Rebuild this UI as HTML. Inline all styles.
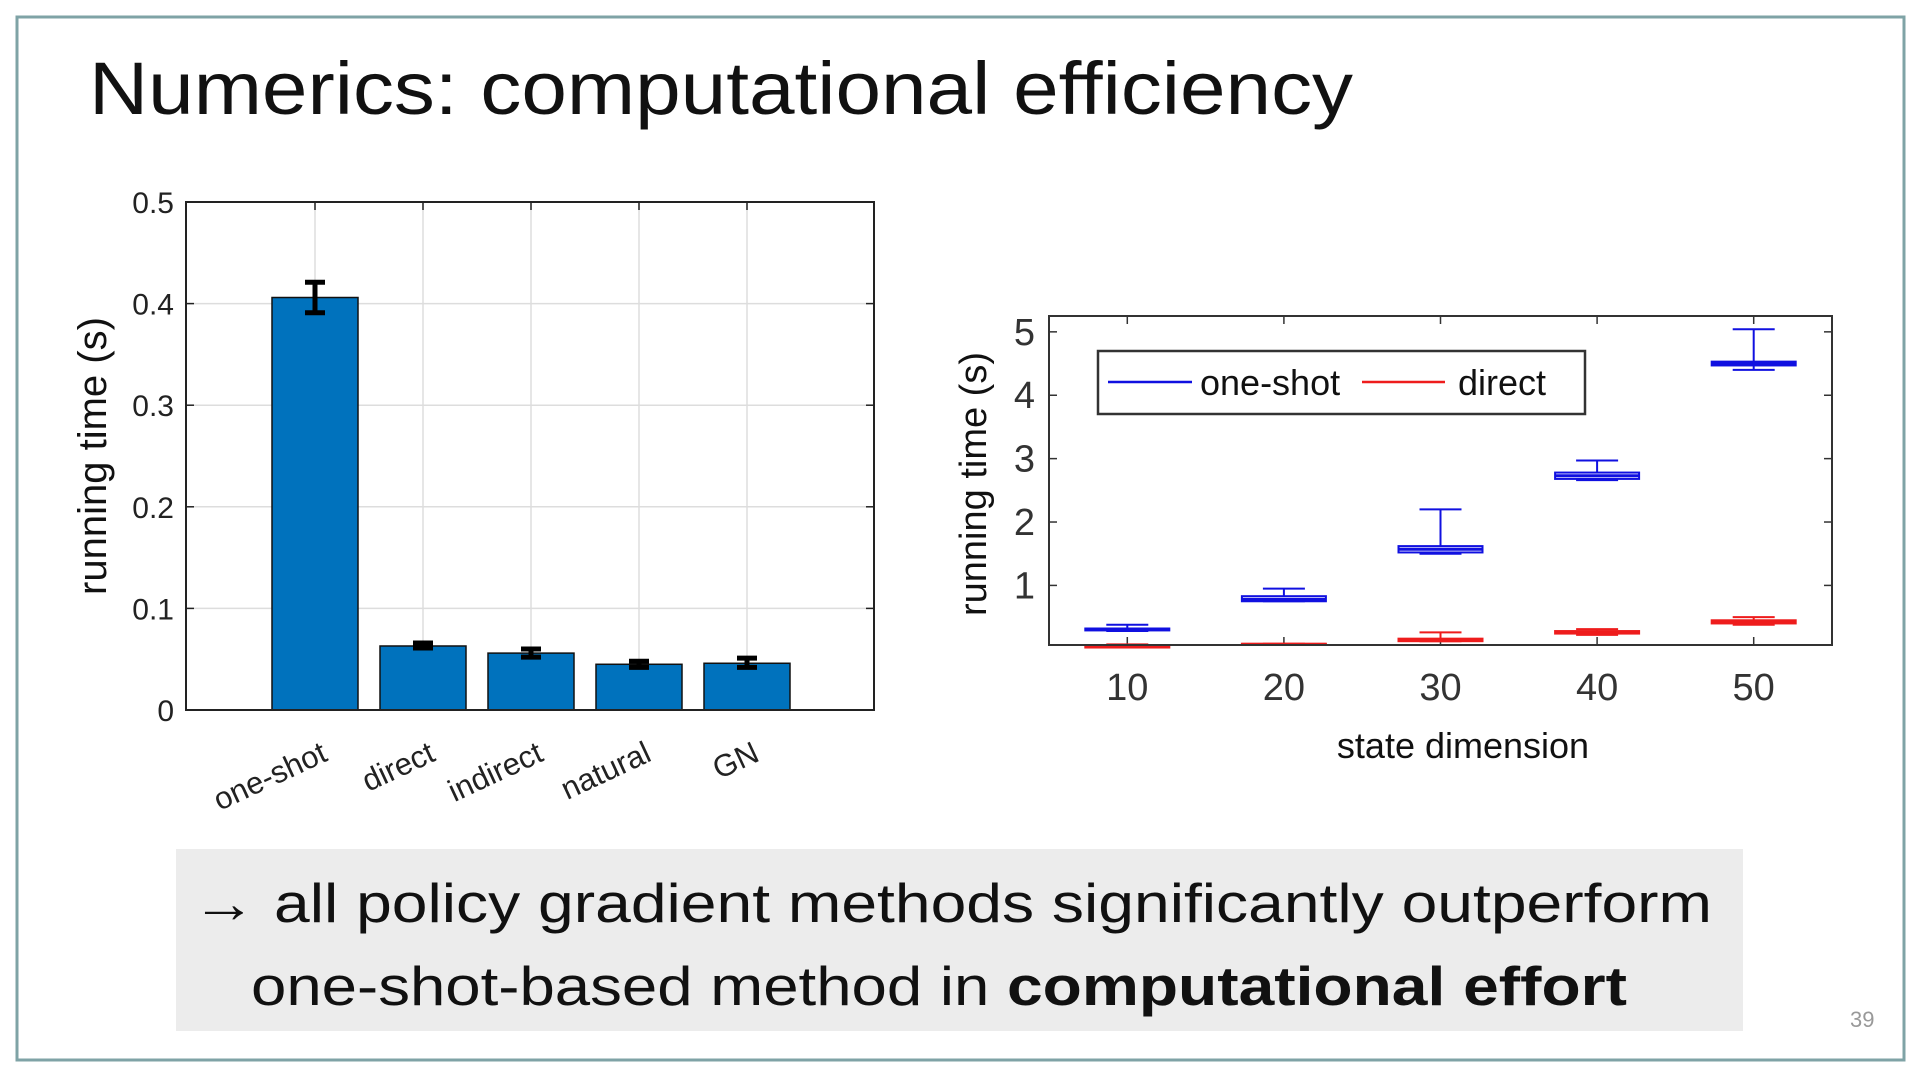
<!DOCTYPE html>
<html><head><meta charset="utf-8"><style>
html,body{margin:0;padding:0;background:#fff;}
svg{display:block;font-family:"Liberation Sans",sans-serif;}
</style></head><body>
<svg id="s" width="1920" height="1080" viewBox="0 0 1920 1080">
<rect x="17" y="17" width="1887" height="1043" fill="#fff" stroke="#7fa3a6" stroke-width="3"/>
<text x="89" y="114" font-size="74" fill="#111" textLength="1264" lengthAdjust="spacingAndGlyphs">Numerics: computational efficiency</text>
<g id="bar"></g>
<g id="box"></g>
<rect x="176" y="849" width="1567" height="182" fill="#ececec"/>
<text x="192" y="922" font-size="55" fill="#111" textLength="1520" lengthAdjust="spacingAndGlyphs">→ all policy gradient methods significantly outperform</text>
<text x="251" y="1005" font-size="55" fill="#111"><tspan textLength="756" lengthAdjust="spacingAndGlyphs">one-shot-based method in </tspan><tspan font-weight="bold" textLength="620" lengthAdjust="spacingAndGlyphs">computational effort</tspan></text>
<text x="1850" y="1027" font-size="22" fill="#999">39</text>
</svg>
<script>
// ---- bar chart data ----
const barCats = ["one-shot","direct","indirect","natural","GN"];
const barVals = [0.406,0.063,0.056,0.045,0.046];
const barErrLo = [0.391,0.061,0.052,0.042,0.042];
const barErrHi = [0.421,0.066,0.060,0.048,0.051];
const barTicks = [0,0.1,0.2,0.3,0.4,0.5];
const barTickLabels = ["0","0.1","0.2","0.3","0.4","0.5"];
// ---- box chart data ----
const boxX = [10,20,30,40,50];
const boxXLabels = ["10","20","30","40","50"];
const oneQ1 = [0.29,0.75,1.52,2.68,4.47];
const oneMed = [0.31,0.78,1.57,2.73,4.50];
const oneQ3 = [0.32,0.83,1.62,2.78,4.53];
const oneLo = [0.28,0.75,1.50,2.66,4.40];
const oneHi = [0.38,0.95,2.20,2.97,5.04];
const dirQ1 = [0.02,0.06,0.12,0.24,0.40];
const dirMed = [0.03,0.07,0.14,0.26,0.42];
const dirQ3 = [0.05,0.08,0.16,0.28,0.45];
const dirLo = [0.02,0.06,0.12,0.22,0.38];
const dirHi = [0.07,0.08,0.26,0.31,0.50];
const boxYTicks = [1,2,3,4,5];
const boxYLabels = ["1","2","3","4","5"];

const NS="http://www.w3.org/2000/svg";
function mk(parent,tag,attrs,text){const e=document.createElementNS(NS,tag);for(const k in attrs)e.setAttribute(k,attrs[k]);if(text!==undefined)e.textContent=text;parent.appendChild(e);return e;}

// Bar chart
(function(){
const g=document.getElementById('bar');
const L=186,R=874,T=202,B=710;
const y=v=>B-(v-0)/(0.5-0)*(B-T);
const step=108, x0=315;
const xc=i=>x0+i*step;
barTicks.forEach((t,i)=>{
 let l=mk(g,'line',{x1:L,x2:R,y1:y(t),y2:y(t),stroke:'#ddd','stroke-width':1.5});
 
 
 mk(g,'line',{x1:L,x2:L+8,y1:y(t),y2:y(t),stroke:'#222','stroke-width':1.5});
 mk(g,'line',{x1:R,x2:R-8,y1:y(t),y2:y(t),stroke:'#222','stroke-width':1.5});
 let tl=mk(g,'text',{x:L-12,y:y(t)+11,'font-size':30,'text-anchor':'end',fill:'#222'},barTickLabels[i]);
 
 
});
barCats.forEach((c,i)=>{
 mk(g,'line',{x1:xc(i),x2:xc(i),y1:T,y2:B,stroke:'#ddd','stroke-width':1.5});
 const w=86;
 let r=mk(g,'rect',{x:xc(i)-w/2,y:y(barVals[i]),width:w,height:B-y(barVals[i]),fill:'#0072bd',stroke:'#111','stroke-width':1.5});
 
 
 const eg=mk(g,'g',{stroke:'#000','stroke-width':5});
 
 
 mk(eg,'line',{x1:xc(i),x2:xc(i),y1:y(barErrLo[i]),y2:y(barErrHi[i])});
 mk(eg,'line',{x1:xc(i)-10,x2:xc(i)+10,y1:y(barErrLo[i]),y2:y(barErrLo[i])});
 mk(eg,'line',{x1:xc(i)-10,x2:xc(i)+10,y1:y(barErrHi[i]),y2:y(barErrHi[i])});
 mk(g,'line',{x1:xc(i),x2:xc(i),y1:T,y2:T+8,stroke:'#222','stroke-width':1.5});
 let tl=mk(g,'text',{x:xc(i)+14,y:B+50,'font-size':31,'text-anchor':'end',fill:'#222',transform:`rotate(-25 ${xc(i)+14} ${B+50})`},c);
 
 
});
let fr=mk(g,'rect',{x:L,y:T,width:R-L,height:B-T,fill:'none',stroke:'#222','stroke-width':2});


let yl=mk(g,'text',{x:106,y:456,'font-size':40,'text-anchor':'middle',fill:'#111',transform:'rotate(-90 106 456)'},'running time (s)');


})();

// Box chart
(function(){
const g=document.getElementById('box');
const L=1049,R=1832,T=316,B=645;
const xmin=5,xmax=55,ymin=0.06,ymax=5.25;
const x=v=>L+(v-xmin)/(xmax-xmin)*(R-L);
const y=v=>B-(v-ymin)/(ymax-ymin)*(B-T);
boxYTicks.forEach((t,i)=>{
 mk(g,'line',{x1:L,x2:L+8,y1:y(t),y2:y(t),stroke:'#333','stroke-width':1.5});
 mk(g,'line',{x1:R,x2:R-8,y1:y(t),y2:y(t),stroke:'#333','stroke-width':1.5});
 let tl=mk(g,'text',{x:L-14,y:y(t)+13,'font-size':38,'text-anchor':'end',fill:'#333'},boxYLabels[i]);
 
 
});
boxX.forEach((v,i)=>{
 mk(g,'line',{x1:x(v),x2:x(v),y1:B,y2:B-8,stroke:'#333','stroke-width':1.5});
 mk(g,'line',{x1:x(v),x2:x(v),y1:T,y2:T+8,stroke:'#333','stroke-width':1.5});
 let tl=mk(g,'text',{x:x(v),y:B+55,'font-size':38,'text-anchor':'middle',fill:'#333'},boxXLabels[i]);
 
 
});
function drawBox(i,q1,med,q3,lo,hi,col,name){
 const cx=x(boxX[i]),w=84,cw=42;
 const bg=mk(g,'g',{stroke:col,'stroke-width':2,fill:'none'});
 
 
 mk(bg,'line',{x1:cx,x2:cx,y1:y(q3),y2:y(hi)});
 mk(bg,'line',{x1:cx,x2:cx,y1:y(q1),y2:y(lo)});
 mk(bg,'line',{x1:cx-cw/2,x2:cx+cw/2,y1:y(hi),y2:y(hi)});
 mk(bg,'line',{x1:cx-cw/2,x2:cx+cw/2,y1:y(lo),y2:y(lo)});
 mk(bg,'rect',{x:cx-w/2,y:y(q3),width:w,height:Math.max(1,y(q1)-y(q3))});
 mk(bg,'line',{x1:cx-w/2,x2:cx+w/2,y1:y(med),y2:y(med),'stroke-width':3});
}
boxX.forEach((v,i)=>{
 drawBox(i,oneQ1[i],oneMed[i],oneQ3[i],oneLo[i],oneHi[i],'#1010e0','one-shot');
 drawBox(i,dirQ1[i],dirMed[i],dirQ3[i],dirLo[i],dirHi[i],'#ee1c1c','direct');
});
let fr=mk(g,'rect',{x:L,y:T,width:R-L,height:B-T,fill:'none',stroke:'#333','stroke-width':2});


const lg=mk(g,'g',{});


mk(lg,'rect',{x:1098,y:351,width:487,height:63,fill:'#fff',stroke:'#333','stroke-width':2.5});
mk(lg,'line',{x1:1108,x2:1192,y1:382,y2:382,stroke:'#1010e0','stroke-width':2.5});
let t1=mk(lg,'text',{x:1200,y:395,'font-size':36,fill:'#111'},'one-shot');


mk(lg,'line',{x1:1362,x2:1445,y1:382,y2:382,stroke:'#ee1c1c','stroke-width':2.5});
let t2=mk(lg,'text',{x:1458,y:395,'font-size':36,fill:'#111'},'direct');


let yl=mk(g,'text',{x:986,y:484,'font-size':38,'text-anchor':'middle',fill:'#111',transform:'rotate(-90 986 484)'},'running time (s)');


let xl=mk(g,'text',{x:1463,y:758,'font-size':36,'text-anchor':'middle',fill:'#111'},'state dimension');


})();
</script>
</body></html>
